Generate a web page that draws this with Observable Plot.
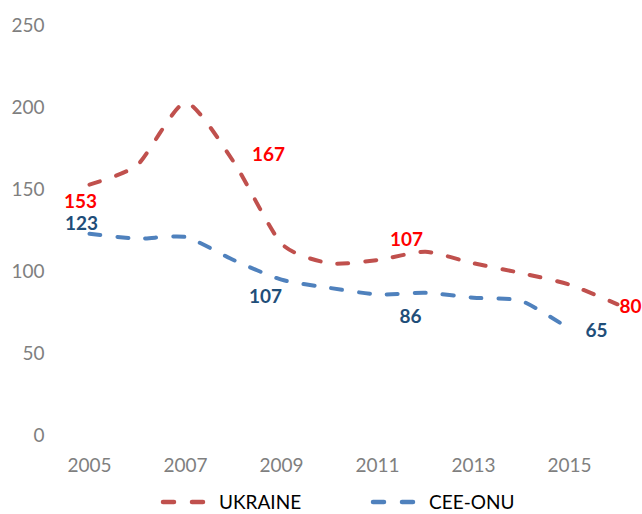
<!DOCTYPE html>
<html>
<head>
<meta charset="utf-8">
<script src="https://cdn.jsdelivr.net/npm/d3@7"></script>
<script src="https://cdn.jsdelivr.net/npm/@observablehq/plot@0.6"></script>
<style>
  html, body { margin: 0; padding: 0; background: #fff; }
  #wrap { position: relative; width: 642px; height: 514px; overflow: hidden; font-family: Lato, "Open Sans", sans-serif; }
  #legend { position: absolute; left: 0; top: 491px; width: 642px; height: 22px; }
  .item { position: absolute; top: 0; height: 22px; line-height: 22px; display: flex; align-items: center; font-size: 19px; color: #000; }
  .item svg { margin-right: 9px; }
</style>
</head>
<body>
<div id="wrap">
  <div id="chart"></div>
  <div id="legend"></div>
</div>
<script>
// ---- data ----
const years = [2005, 2006, 2007, 2008, 2009, 2010, 2011, 2012, 2013, 2014, 2015, 2016];
const ukraine = [153, 165, 203, 167, 117, 105, 107, 112, 105, 99, 92, 80];
const ceeOnu = [123, 120, 121, 107, 95, 90, 86, 87, 84, 82, 65, null];
const seriesNames = ["UKRAINE", "CEE-ONU"];
const xTicks = [2005, 2007, 2009, 2011, 2013, 2015];
const yTicks = [0, 50, 100, 150, 200, 250];
const labelYearsUkraine = [2005, 2008, 2011, 2016];
const labelValuesUkraine = [153, 167, 107, 80];
const labelYearsCee = [2005, 2008, 2011, 2015];
const labelValuesCee = [123, 107, 86, 65];

// ---- styling ----
const lineColors = ["#C0504D", "#4F81BD"];
const labelColors = ["#FF0000", "#1F4E79"];
const offsetsUkraine = [[-9, 17], [35, -7], [29, -20], [13, 3]];
const offsetsCee = [[-8, -10], [32, 37], [33, 22], [27, 2]];
const dash = "11,17";

const rows = (vals, name) => years.map((yr, i) => ({year: yr, value: vals[i], series: name})).filter(d => d.value != null);
const dataU = rows(ukraine, seriesNames[0]);
const dataC = rows(ceeOnu, seriesNames[1]);

const labelMarks = (ys, vs, offs, color) => ys.map((yr, i) =>
  Plot.text([{year: yr, value: vs[i]}], {
    x: "year", y: "value", text: d => String(d.value),
    dx: offs[i][0], dy: offs[i][1], fill: color,
    fontWeight: "bold", fontSize: 19, textAnchor: "middle", lineAnchor: "middle"
  })
);

const curveOpts = {curve: "cardinal", tension: 0.35};

const chart = Plot.plot({
  width: 642,
  height: 480,
  marginLeft: 65,
  marginRight: 1,
  marginTop: 25,
  marginBottom: 45,
  style: {fontFamily: "Lato, 'Open Sans', sans-serif", fontSize: "19px", color: "#7F7F7F", background: "#fff", overflow: "visible"},
  x: {domain: [2004.5, 2016.5], ticks: xTicks, tickFormat: d => String(d), tickSize: 0, tickPadding: 23, label: null},
  y: {domain: [0, 250], ticks: yTicks, tickSize: 0, tickPadding: 21, label: null},
  marks: [
    Plot.line(dataC, {x: "year", y: "value", stroke: lineColors[1], strokeWidth: 4, strokeDasharray: dash, strokeLinecap: "round", ...curveOpts}),
    Plot.line(dataU, {x: "year", y: "value", stroke: lineColors[0], strokeWidth: 4, strokeDasharray: dash, strokeLinecap: "round", ...curveOpts}),
    ...labelMarks(labelYearsUkraine, labelValuesUkraine, offsetsUkraine, labelColors[0]),
    ...labelMarks(labelYearsCee, labelValuesCee, offsetsCee, labelColors[1])
  ]
});
document.getElementById("chart").appendChild(chart);

// ---- legend ----
const legend = document.getElementById("legend");
const legendLeft = [160, 370];
seriesNames.forEach((name, i) => {
  const item = document.createElement("div");
  item.className = "item";
  item.style.left = legendLeft[i] + "px";
  item.innerHTML = `<svg width="50" height="10"><line x1="3" y1="5" x2="48" y2="5" stroke="${lineColors[i]}" stroke-width="4.5" stroke-linecap="round" stroke-dasharray="11,18"/></svg><span>${name}</span>`;
  legend.appendChild(item);
});
</script>
</body>
</html>
